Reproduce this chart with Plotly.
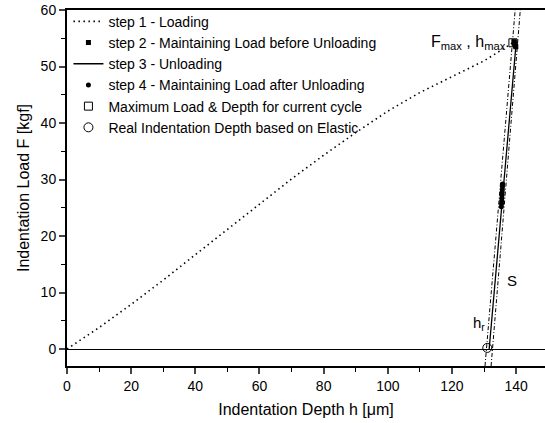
import plotly.graph_objects as go

# Step 1 - loading curve
load_h = [0, 10, 20, 30, 40, 50, 60, 70, 80, 90, 100, 110, 120, 130, 139]
load_F = [0, 3.8, 7.9, 12.2, 16.7, 21.2, 25.7, 30.1, 34.3, 38.3, 42.1, 45.4, 48.2, 51.0, 54.2]

# Step 2 - maintaining load before unloading
hold1_h = [139.3, 139.45, 139.6, 139.75, 139.9]
hold1_F = [54.4, 54.2, 53.9, 53.7, 53.5]

# Step 3 - unloading
unload_h = [139.9, 138.0, 136.2, 134.4, 132.8, 131.6]
unload_F = [53.5, 41.0, 29.5, 18.0, 7.5, 0.0]

# Step 4 - maintaining load after unloading
hold2_h = [135.4, 135.45, 135.5, 135.55, 135.6, 135.65, 135.7, 135.75, 135.8]
hold2_F = [25.2, 25.7, 26.2, 26.7, 27.2, 27.7, 28.2, 28.7, 29.2]

# Max load & depth
max_h = [139.0]
max_F = [54.2]

# Real indentation depth
hr_h = [131.0]
hr_F = [0.2]

# Tangent (stiffness) lines
tan1_h = [130.3, 139.7]
tan1_F = [-3, 60]
tan2_h = [132.2, 141.3]
tan2_F = [-3, 60]

x_ticks = [0, 20, 40, 60, 80, 100, 120, 140]
y_ticks = [0, 10, 20, 30, 40, 50, 60]

FONT = "Liberation Sans, Arial"

fig = go.Figure()
fig.add_trace(go.Scatter(x=tan1_h, y=tan1_F, mode="lines", showlegend=False,
                         line=dict(color="black", width=1, dash="4px,2px,1px,2px")))
fig.add_trace(go.Scatter(x=tan2_h, y=tan2_F, mode="lines", showlegend=False,
                         line=dict(color="black", width=1, dash="4px,2px,1px,2px")))
fig.add_trace(go.Scatter(x=load_h, y=load_F, mode="lines", name="step 1 - Loading",
                         line=dict(color="black", width=1.6, dash="1.5px,3.5px")))
fig.add_trace(go.Scatter(x=hold1_h, y=hold1_F, mode="markers",
                         name="step 2 - Maintaining Load before Unloading",
                         marker=dict(symbol="square", size=5, color="black")))
fig.add_trace(go.Scatter(x=unload_h, y=unload_F, mode="lines", name="step 3 - Unloading",
                         line=dict(color="black", width=1.3)))
fig.add_trace(go.Scatter(x=hold2_h, y=hold2_F, mode="markers",
                         name="step 4 - Maintaining Load after Unloading",
                         marker=dict(symbol="circle", size=5, color="black")))
fig.add_trace(go.Scatter(x=max_h, y=max_F, mode="markers",
                         name="Maximum Load & Depth for current cycle",
                         marker=dict(symbol="square-open", size=8, color="black", line=dict(width=1))))
fig.add_trace(go.Scatter(x=hr_h, y=hr_F, mode="markers",
                         name="Real Indentation Depth based on Elastic",
                         marker=dict(symbol="circle-open", size=9, color="black", line=dict(width=1))))

fig.add_annotation(x=125.3, y=54.3, xref="x", yref="y", showarrow=False,
                   text="F<sub>max</sub> , h<sub>max</sub>",
                   font=dict(family=FONT, size=16, color="black"))
fig.add_annotation(x=138.8, y=12.2, xref="x", yref="y", showarrow=False, text="S",
                   font=dict(family=FONT, size=15, color="black"))
fig.add_annotation(x=128.3, y=4.6, xref="x", yref="y", showarrow=False, text="h<sub>r</sub>",
                   font=dict(family=FONT, size=15, color="black"))

fig.update_layout(
    width=545, height=423,
    margin=dict(l=67, r=0, t=10, b=57),
    paper_bgcolor="white", plot_bgcolor="white",
    font=dict(family=FONT, size=14, color="black"),
    legend=dict(x=0.003, y=1.012, xanchor="left", yanchor="top",
                bgcolor="rgba(0,0,0,0)", itemwidth=30, tracegroupgap=0,
                font=dict(size=14)),
)
fig.update_xaxes(range=[0, 149], tickvals=x_ticks, ticks="outside", ticklen=6, tickwidth=1.5,
                 showline=True, linecolor="black", linewidth=2, mirror=True, showgrid=False,
                 zeroline=False,
                 minor=dict(dtick=10, ticks="outside", ticklen=4, tickwidth=1.2, tickcolor="black"),
                 title=dict(text="Indentation Depth h [μm]", font=dict(size=16), standoff=11),
                 tickfont=dict(size=14))
fig.update_yaxes(range=[-3, 60], tickvals=y_ticks, ticks="outside", ticklen=6, tickwidth=1.5,
                 showline=True, linecolor="black", linewidth=2, mirror=False, showgrid=False,
                 zeroline=True, zerolinecolor="black", zerolinewidth=1,
                 minor=dict(dtick=5, ticks="outside", ticklen=4, tickwidth=1.2, tickcolor="black"),
                 title=dict(text="Indentation Load F [kgf]", font=dict(size=16), standoff=7),
                 tickfont=dict(size=14))

fig.write_html("out.html")
